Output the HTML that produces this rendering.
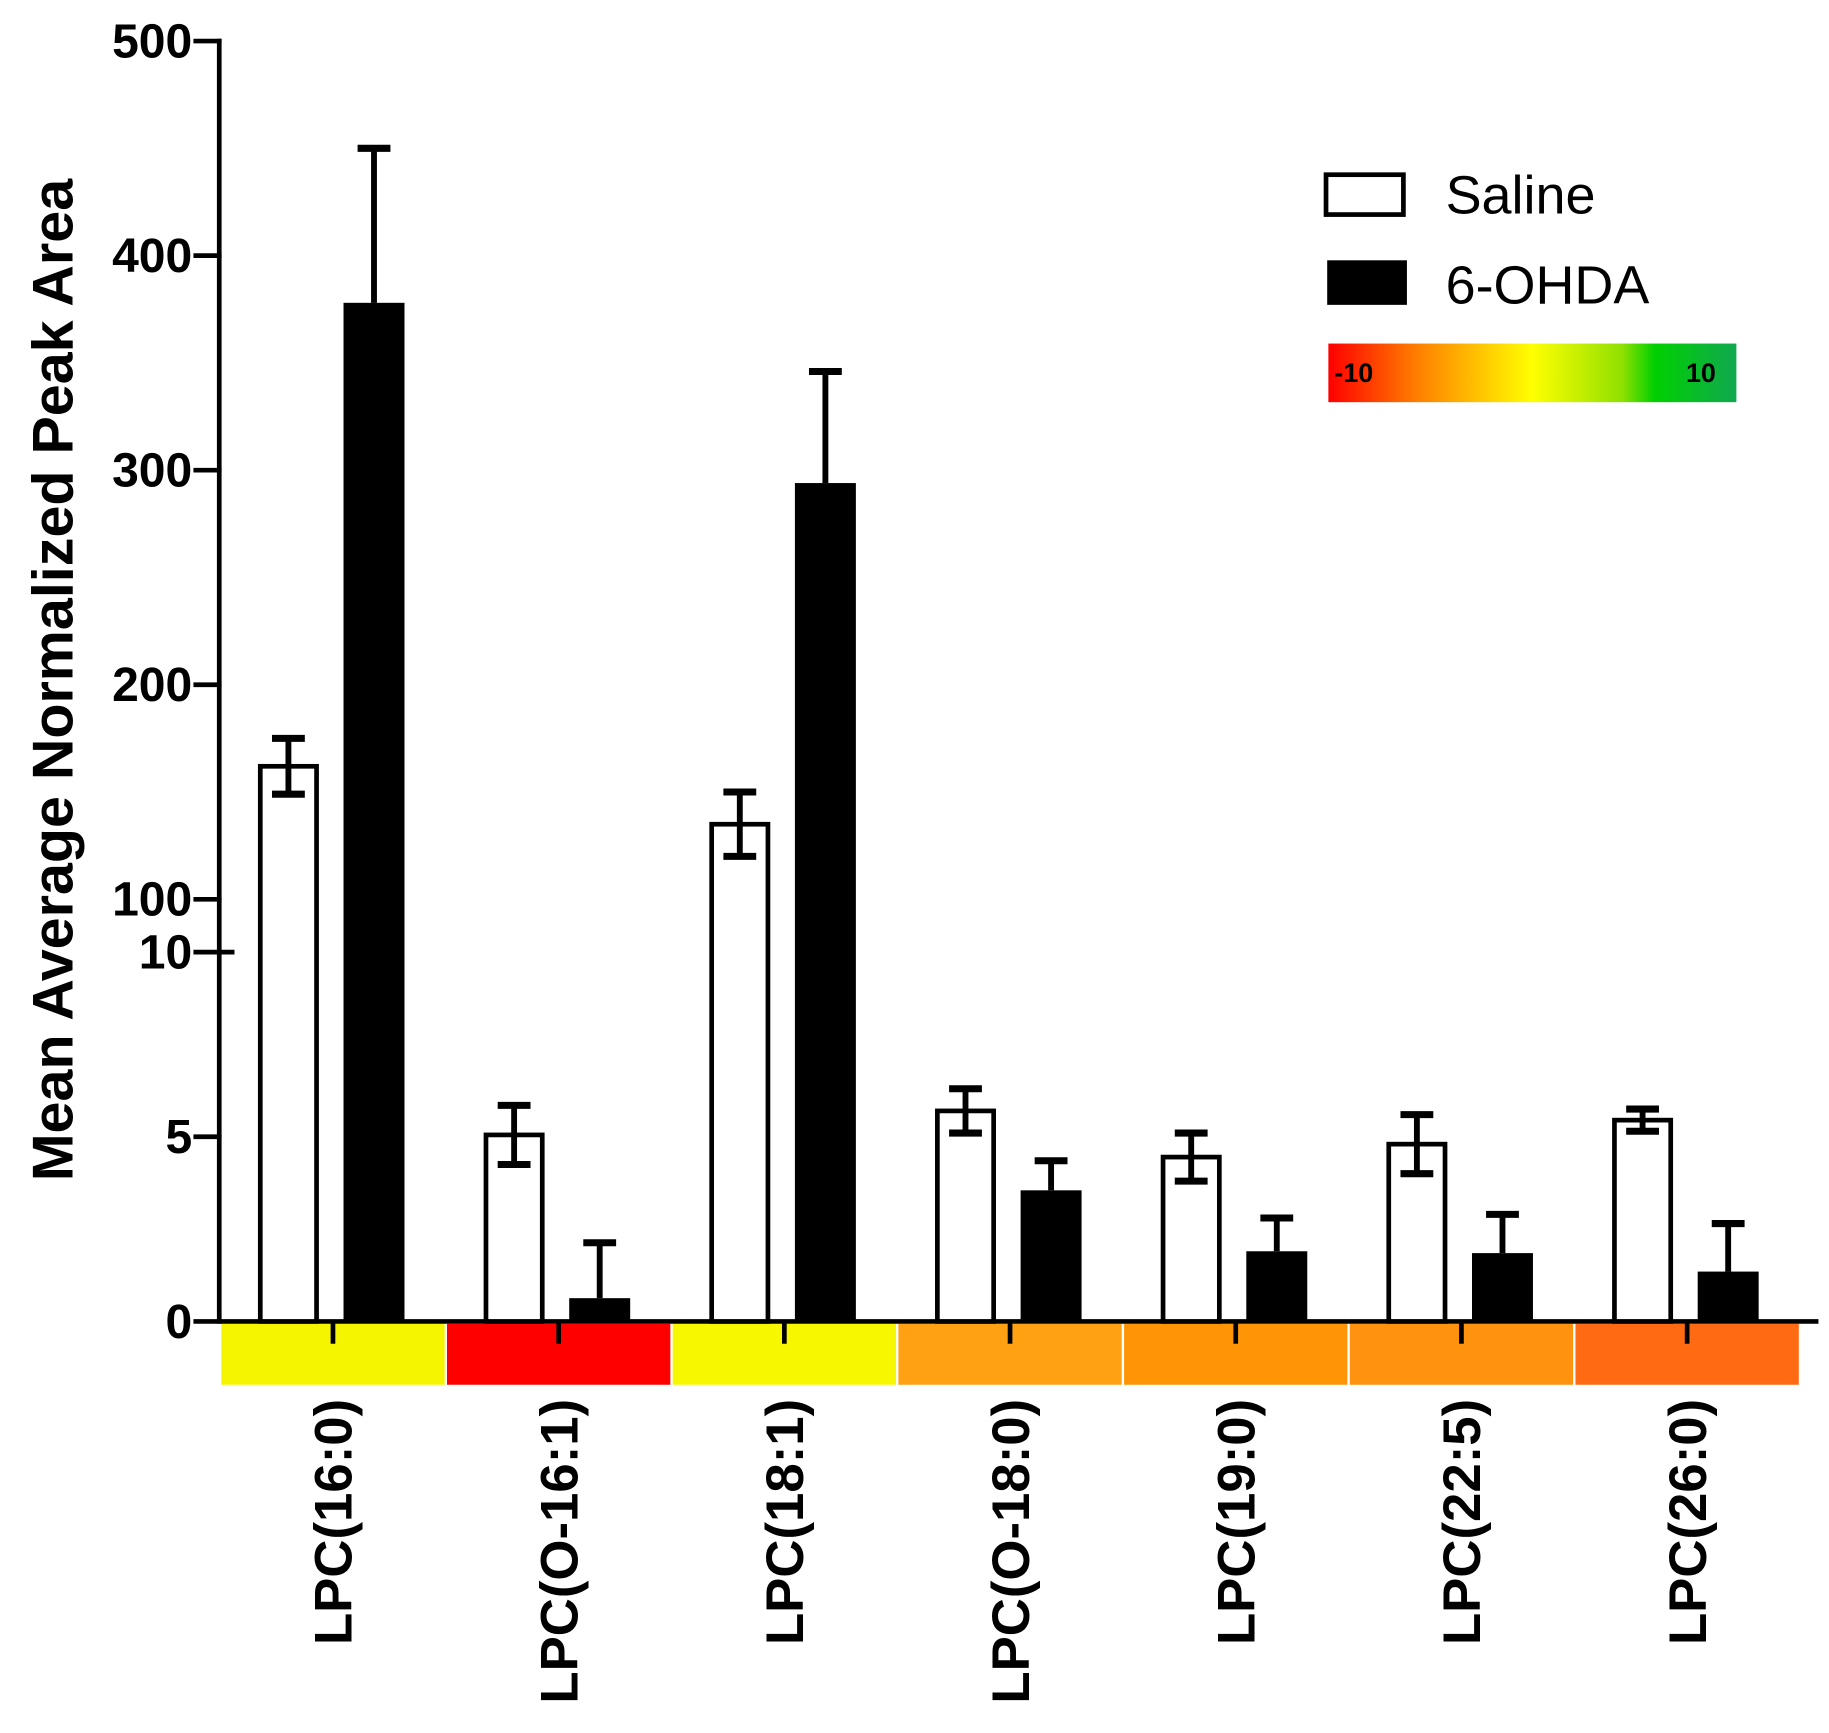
<!DOCTYPE html>
<html><head><meta charset="utf-8"><style>
html,body{margin:0;padding:0;background:#fff}
svg{display:block}
text{font-family:"Liberation Sans",Arial,sans-serif}
</style></head><body>
<svg id="chart" width="1829" height="1733" viewBox="0 0 1560 1478" preserveAspectRatio="none" xmlns="http://www.w3.org/2000/svg">
<defs>
<linearGradient id="hm" x1="0" x2="1" y1="0" y2="0">
<stop offset="0" stop-color="#ff0000"/><stop offset="0.22" stop-color="#ff8000"/>
<stop offset="0.5" stop-color="#ffff00"/><stop offset="0.72" stop-color="#90e000"/>
<stop offset="0.8" stop-color="#00d000"/><stop offset="1" stop-color="#10a850"/>
</linearGradient>
</defs>
<g id="marks"></g>
<g>
<rect x="1131" y="149" width="66" height="34" fill="#fff" stroke="#000" stroke-width="4"/>
<text x="1233" y="182" font-size="46">Saline</text>
<rect x="1132" y="222" width="68" height="38" fill="#000"/>
<text x="1233" y="259" font-size="46">6-OHDA</text>
<rect x="1133" y="293" width="348" height="50" fill="url(#hm)"/>
<text x="1138" y="326" font-size="23" font-weight="bold">-10</text>
<text x="1438" y="326" font-size="23" font-weight="bold">10</text>
</g>
<text transform="translate(62,580) rotate(-90)" text-anchor="middle" font-size="49" font-weight="bold">Mean Average Normalized Peak Area</text>
</svg>
<script>
const categories=["LPC(16:0)","LPC(O-16:1)","LPC(18:1)","LPC(O-18:0)","LPC(19:0)","LPC(22:5)","LPC(26:0)"];
const salineValues=[162,5.05,135,5.7,4.45,4.8,5.45];
const salineErr=[13,0.8,15,0.6,0.65,0.8,0.3];
const ohdaValues=[378,0.63,294,3.55,1.9,1.85,1.35];
const ohdaErr=[72,1.5,52,0.8,0.9,1.05,1.3];
const heatColors=["#f5f500","#ff0000","#f7f700","#ffa112","#ff9406","#ff920e","#ff6a12"];
const upperTicks=[100,200,300,400,500];
const lowerTicks=[0,5,10];

const NS="http://www.w3.org/2000/svg";
const g=document.getElementById('marks');
function el(tag,attrs){const e=document.createElementNS(NS,tag);for(const k in attrs)e.setAttribute(k,attrs[k]);g.appendChild(e);return e;}
function yScale(v){ if(v>10) return 767-(v-100)*(732/400); return 1127-v*31.5; }
function xCenter(i){ return 284+i*192.5; }

let ax=el('line',{x1:187,y1:33,x2:187,y2:1127,stroke:'#000','stroke-width':4});


function tick(t,len){
  const y=yScale(t);
  const l=el('line',{x1:165,y1:y,x2:len,y2:y,stroke:'#000','stroke-width':4});
  
  
  const tx=el('text',{x:164,y:y+14,'text-anchor':'end','font-size':41,'font-weight':'bold'});
  tx.textContent=t;
  
  
}
upperTicks.forEach(t=>tick(t,189));
lowerTicks.forEach(t=>tick(t,t===10?200:189));

categories.forEach((c,i)=>{
  const cx=xCenter(i);
  const r=el('rect',{x:cx-96.25+1,y:1129,width:190.5,height:52,fill:heatColors[i]});
  
  
});
let xa=el('line',{x1:185,y1:1127,x2:1551,y2:1127,stroke:'#000','stroke-width':4});



function errBar(cx,v,e,both){
  const yt=yScale(v+e), yb=both?yScale(v-e):yScale(v);
  const l=el('line',{x1:cx,y1:yt,x2:cx,y2:yb,stroke:'#000','stroke-width':5});
  
  
  const c=el('line',{x1:cx-14,y1:yt,x2:cx+14,y2:yt,stroke:'#000','stroke-width':6});
  
  
  if(both){
    const c2=el('line',{x1:cx-14,y1:yb,x2:cx+14,y2:yb,stroke:'#000','stroke-width':6});
    
    
  }
}

categories.forEach((c,i)=>{
  const cx=xCenter(i);
  const sx=cx-38, ox=cx+35;
  const sy=yScale(salineValues[i]);
  const b1=el('rect',{x:sx-24,y:sy,width:48,height:1127-sy,fill:'#fff',stroke:'#000','stroke-width':4});
  
  
  errBar(sx,salineValues[i],salineErr[i],true);
  const oy=yScale(ohdaValues[i]);
  const b2=el('rect',{x:ox-26,y:oy,width:52,height:1127-oy,fill:'#000'});
  
  
  errBar(ox,ohdaValues[i],ohdaErr[i],false);
  const t=el('line',{x1:cx,y1:1127,x2:cx,y2:1146,stroke:'#000','stroke-width':4});
  
  
  const tx=el('text',{transform:`translate(${cx+16},1193) rotate(-90)`,'text-anchor':'end','font-size':45,'font-weight':'bold'});
  tx.textContent=c;
  
  
});
</script>
</body></html>
